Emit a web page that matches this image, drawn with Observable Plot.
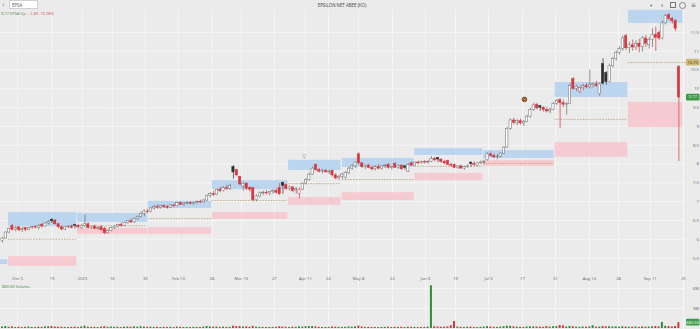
<!DOCTYPE html>
<html><head><meta charset="utf-8">
<script src="https://cdn.jsdelivr.net/npm/d3@7"></script>
<script src="https://cdn.jsdelivr.net/npm/@observablehq/plot@0.6"></script>
<style>
html,body{margin:0;padding:0;background:#ebebeb;}
#wrap{position:relative;width:700px;height:329px;overflow:hidden;background:#ebebeb;font-family:"Open Sans","DejaVu Sans",sans-serif;}
#price{position:absolute;left:0;top:0;}
#vol{position:absolute;left:0;top:283px;}
.t{position:absolute;font-size:4.4px;line-height:1;white-space:nowrap;}
</style></head>
<body><div id="wrap">
<div id="price"></div><div id="vol"></div>
<div class="t" style="left:2.5px;top:1.5px;font-size:6.5px;color:#666">‹</div>
<div style="position:absolute;left:9px;top:0;width:29px;height:9px;background:#fff;border:0.5px solid #d0d0d0;box-sizing:border-box"></div>
<div class="t" style="left:12px;top:2.6px;color:#555">EPSA</div>
<div class="t" style="left:0;width:684px;text-align:center;top:3px;color:#444">EPSILON NET ABEE (KO)</div>
<div class="t" style="left:650px;top:2.5px;color:#666">▾</div>
<div class="t" style="left:661px;top:2.5px;color:#666">ıı</div>
<div style="position:absolute;left:670px;top:2px;width:4px;height:4px;border:0.6px solid #777"></div>
<div style="position:absolute;left:679px;top:1.5px;width:5px;height:5px;border:0.6px solid #888;border-radius:50%"></div>
<div class="t" style="left:691px;top:2px;font-size:6px;color:#666">≡</div>
<div class="t" style="left:1px;top:11.5px;font-size:4px"><span style="color:#4a8a3a">9.77 EPSA Up</span> <span style="color:#cf3f43">· -1.83 -15.78%</span></div>
<div class="t" style="left:2px;top:284.5px;font-size:4px;color:#3a8a3a">883.6K Volume</div>
</div>
<script>
const openP=[5.95,6.02,6.18,6.35,6.26,6.32,6.24,6.30,6.25,6.30,
6.33,6.31,6.38,6.34,6.42,6.52,6.50,6.40,6.32,6.26,
6.32,6.34,6.38,6.36,6.30,6.36,6.40,6.30,6.34,6.28,
6.32,6.28,6.16,6.22,6.30,6.34,6.38,6.36,6.44,6.48,
6.45,6.54,6.60,6.68,6.74,6.72,6.82,6.86,6.84,6.88,
6.86,6.84,6.90,6.88,6.96,6.92,6.95,6.97,6.94,6.97,
6.99,6.98,7.03,7.16,7.20,7.18,7.32,7.28,7.36,7.34,
7.92,7.84,7.66,7.40,7.48,7.36,7.36,7.04,7.14,7.22,
7.24,7.22,7.26,7.28,7.36,7.50,7.44,7.34,7.38,7.30,
7.20,7.32,7.48,7.58,7.72,7.98,7.84,7.80,7.82,7.78,
7.82,7.70,7.62,7.66,7.64,7.76,7.88,7.94,8.26,8.02,
7.92,7.96,7.90,7.86,7.92,7.88,7.94,7.98,7.90,8.00,
7.90,7.96,7.94,7.80,8.02,7.96,8.04,8.02,8.05,8.04,
8.06,8.14,8.16,8.12,8.06,8.08,7.98,7.98,7.90,7.94,
7.88,7.92,8.04,8.00,7.96,8.02,8.04,8.10,8.26,8.22,
8.18,8.20,8.28,8.44,8.94,9.16,9.10,9.14,9.08,9.12,
9.26,9.44,9.58,9.54,9.50,9.44,9.40,9.44,9.60,9.70,
9.62,9.58,9.60,10.26,10.00,9.92,10.02,10.08,10.04,10.10,
10.12,9.86,10.66,10.42,10.18,10.60,10.80,10.96,11.06,11.40,
11.08,11.16,11.10,11.20,11.12,11.34,11.16,11.30,11.44,11.48,
11.34,11.74,11.96,11.86,11.80,10.58];
const highP=[6.05,6.20,6.30,6.40,6.34,6.34,6.32,6.32,6.32,6.35,
6.36,6.40,6.42,6.45,6.50,6.55,6.52,6.42,6.36,6.34,
6.36,6.38,6.40,6.40,6.40,6.64,6.44,6.36,6.38,6.34,
6.36,6.32,6.26,6.32,6.36,6.40,6.44,6.46,6.50,6.54,
6.56,6.62,6.72,6.78,6.80,6.84,6.90,6.92,6.90,6.92,
6.90,6.92,6.94,6.98,7.00,6.98,7.00,7.00,6.99,7.02,
7.04,7.06,7.18,7.24,7.28,7.34,7.38,7.40,7.44,7.46,
7.96,7.86,7.68,7.52,7.50,7.40,7.38,7.18,7.26,7.28,
7.30,7.28,7.32,7.34,7.48,7.52,7.48,7.42,7.40,7.38,
7.36,7.50,7.62,7.76,7.92,8.00,7.88,7.86,7.86,7.84,
7.84,7.74,7.70,7.76,7.80,7.92,7.98,8.06,8.30,8.04,
7.98,8.00,7.94,7.96,7.98,7.96,8.00,8.02,7.94,8.04,
7.98,7.98,7.96,8.02,8.06,8.06,8.08,8.08,8.10,8.10,
8.20,8.18,8.18,8.14,8.10,8.10,8.02,8.00,7.96,7.98,
7.94,7.98,8.06,8.06,8.04,8.08,8.10,8.30,8.32,8.28,
8.26,8.30,8.46,8.98,9.20,9.22,9.18,9.20,9.16,9.30,
9.48,9.62,9.62,9.56,9.52,9.50,9.48,9.64,9.72,9.74,
9.70,9.64,10.14,10.30,10.10,10.06,10.12,10.14,10.50,10.16,
10.20,10.16,10.80,10.46,10.66,10.84,11.00,11.12,11.40,11.46,
11.24,11.30,11.28,11.32,11.40,11.42,11.36,11.60,11.64,11.54,
11.80,11.98,12.00,11.90,11.84,10.62];
const lowP=[5.90,6.00,6.15,6.22,6.20,6.20,6.18,6.20,6.22,6.26,
6.28,6.25,6.30,6.32,6.38,6.42,6.38,6.28,6.22,6.24,
6.28,6.28,6.28,6.28,6.26,6.32,6.28,6.26,6.26,6.24,
6.22,6.12,6.14,6.20,6.26,6.30,6.32,6.34,6.40,6.42,
6.42,6.50,6.56,6.60,6.68,6.70,6.78,6.80,6.80,6.82,
6.80,6.82,6.84,6.86,6.90,6.88,6.92,6.92,6.90,6.94,
6.95,6.96,7.00,7.10,7.14,7.16,7.24,7.26,7.30,7.30,
7.60,7.66,7.42,7.28,7.30,7.26,7.00,7.00,7.10,7.16,
7.18,7.16,7.20,7.20,7.16,7.20,7.30,7.28,7.24,7.20,
7.08,7.30,7.44,7.54,7.70,7.80,7.76,7.74,7.76,7.72,
7.66,7.58,7.56,7.60,7.60,7.72,7.84,7.88,7.98,7.88,
7.86,7.88,7.82,7.82,7.84,7.84,7.88,7.86,7.84,7.88,
7.86,7.84,7.84,7.78,7.94,7.94,7.98,8.00,8.00,8.00,
8.04,8.06,8.04,8.02,7.98,7.96,7.92,7.88,7.86,7.86,
7.84,7.88,7.92,7.94,7.94,7.98,7.98,8.08,8.18,8.14,
8.12,8.16,8.26,8.42,8.90,9.04,9.02,9.04,9.00,9.10,
9.22,9.40,9.44,9.40,9.38,9.36,9.34,9.42,9.56,8.95,
9.50,9.30,9.58,9.96,9.92,9.88,9.96,10.00,10.00,10.02,
10.04,9.80,10.10,10.10,10.16,10.56,10.74,10.90,11.00,11.02,
10.94,11.00,11.02,10.96,10.98,11.10,11.06,11.10,11.00,11.28,
11.30,11.70,11.82,11.72,11.52,8.07];
const closeP=[6.02,6.18,6.28,6.25,6.30,6.24,6.28,6.25,6.30,6.33,
6.31,6.36,6.34,6.42,6.46,6.48,6.40,6.32,6.26,6.32,
6.34,6.30,6.36,6.32,6.36,6.40,6.30,6.34,6.28,6.30,
6.24,6.16,6.22,6.30,6.34,6.38,6.36,6.44,6.48,6.45,
6.54,6.60,6.68,6.74,6.72,6.82,6.86,6.84,6.88,6.86,
6.84,6.90,6.88,6.96,6.92,6.95,6.97,6.94,6.97,6.99,
6.98,7.03,7.16,7.20,7.18,7.32,7.28,7.36,7.34,7.42,
7.78,7.70,7.46,7.48,7.34,7.32,7.04,7.14,7.22,7.24,
7.22,7.26,7.28,7.24,7.20,7.42,7.34,7.38,7.28,7.34,
7.32,7.48,7.58,7.72,7.88,7.84,7.80,7.82,7.78,7.80,
7.70,7.62,7.66,7.72,7.76,7.88,7.94,8.04,8.02,7.92,
7.96,7.90,7.86,7.92,7.88,7.94,7.96,7.90,7.92,7.90,
7.94,7.86,7.90,7.98,7.96,8.04,8.02,8.05,8.04,8.06,
8.14,8.10,8.12,8.06,8.02,7.98,7.96,7.90,7.94,7.88,
7.92,7.94,8.00,7.98,8.02,8.04,8.06,8.26,8.22,8.18,
8.20,8.28,8.44,8.94,9.16,9.10,9.14,9.08,9.12,9.26,
9.44,9.56,9.48,9.50,9.44,9.40,9.44,9.60,9.68,9.62,
9.58,9.60,10.08,10.00,10.06,10.02,10.08,10.04,10.10,10.12,
10.08,10.12,10.14,10.18,10.60,10.80,10.96,11.06,11.34,11.08,
11.16,11.10,11.20,11.12,11.34,11.20,11.30,11.44,11.36,11.34,
11.74,11.94,11.86,11.80,11.60,9.77];
const volumeM=[0.22,0.30,0.18,0.25,0.15,0.20,0.14,0.18,0.22,0.16,
0.14,0.20,0.18,0.24,0.26,0.30,0.22,0.18,0.20,0.16,
0.15,0.18,0.20,0.16,0.22,0.35,0.20,0.16,0.18,0.15,
0.20,0.28,0.18,0.22,0.16,0.18,0.14,0.20,0.22,0.18,
0.24,0.20,0.26,0.22,0.18,0.20,0.16,0.18,0.15,0.17,
0.16,0.18,0.14,0.20,0.18,0.15,0.16,0.14,0.17,0.18,
0.16,0.20,0.30,0.24,0.20,0.22,0.18,0.20,0.16,0.18,
0.34,0.28,0.30,0.22,0.24,0.18,0.32,0.20,0.18,0.16,
0.15,0.17,0.16,0.18,0.26,0.22,0.18,0.16,0.20,0.18,
0.24,0.20,0.26,0.28,0.30,0.24,0.18,0.16,0.15,0.17,
0.22,0.20,0.18,0.16,0.18,0.22,0.20,0.24,0.36,0.22,
0.16,0.18,0.15,0.16,0.14,0.16,0.18,0.20,0.15,0.18,
0.16,0.18,0.15,0.20,0.18,0.16,0.14,0.15,0.18,0.20,
6.40,0.26,0.22,0.18,0.20,0.24,0.40,1.05,0.22,0.18,
0.16,0.18,0.20,0.16,0.15,0.18,0.20,0.28,0.22,0.18,
0.16,0.20,0.26,0.34,0.32,0.24,0.20,0.18,0.16,0.22,
0.26,0.24,0.22,0.20,0.18,0.30,0.20,0.26,0.28,0.45,
0.40,0.22,0.30,0.26,0.20,0.18,0.22,0.20,0.24,0.42,
0.20,0.22,0.28,0.24,0.26,0.22,0.24,0.20,0.26,0.22,
0.18,0.20,0.22,0.18,0.24,0.20,0.22,0.26,0.30,0.24,
0.90,0.32,0.28,0.22,0.30,0.88];

const tickLabels=["Dec 5","19","2023","16","30","Feb 13","28","Mar 13","27","Apr 11","24","May 8","22","Jun 6","19","Jul 3","17","31","Aug 14","28","Sep 11","25"];
const tickIdx=[4.6,15,24.2,33.3,43.3,53.3,63.5,72.4,82.4,91.8,98.8,107.9,118.2,128.2,137.3,147.3,157.6,167.6,177.9,186.7,196.3,206.4];
const priceTicks=[5.5,6,6.5,7,7.5,8,8.5,9,9.5,10,10.5,11,11.5];
const volTicks=[3,6];
const volTickLabels=["3M","6M"];

const periodStart=[-0.6,1.8,22.7,44.2,63.6,86.7,103,125,145.8,167.5,189.7];
const periodEnd=[1.6,22.5,44.0,63.4,86.5,102.6,124.8,145.6,167.2,189.5,206.2];
const pivotEnd=[1.6,22.5,44.0,63.4,86.5,102.6,124.8,145.6,167.2,189.5,208.6];
const blueLo=[5.33,6.34,6.45,6.82,7.32,7.83,7.91,8.23,8.15,9.77,11.74];
const blueHi=[5.46,6.71,6.69,7.01,7.56,8.10,8.15,8.41,8.36,10.17,12.09];
const pinkLo=[null,5.28,6.13,6.13,6.53,6.90,7.03,7.56,7.94,8.18,8.97];
const pinkHi=[null,5.54,6.29,6.31,6.71,7.11,7.24,7.75,8.10,8.57,9.64];
const pivotP=[null,6.00,6.36,6.55,7.03,7.48,7.59,7.94,8.02,9.19,10.70];

const signalIdx=[91.5], signalPrice=[8.2];
const eventIdx=[158.2], eventPrice=[9.72];
const lastClose=9.77, alertLevel=10.70, lastVolume=0.8836;

const candles=closeP.map((c,i)=>({i,o:openP[i],h:highP[i],l:lowP[i],c,v:volumeM[i],prev:i?closeP[i-1]:openP[i]}));
const periods=periodStart.map((s,k)=>({x1:s,x2:periodEnd[k],xe:pivotEnd[k],b1:blueLo[k],b2:blueHi[k],p1:pinkLo[k],p2:pinkHi[k],pv:pivotP[k]}));

const RED="#d6363d",GRAY="#6a6a6a",BLACK="#2e2e2e";
const lineColor=d=>d.c>=d.prev?GRAY:RED;
const bodyFill=d=>d.c>=d.o?"#ffffff":(d.c>=d.prev?BLACK:RED);
const bodyStroke=d=>d.c>=d.o?lineColor(d):bodyFill(d);
const FONT='"Open Sans","DejaVu Sans",sans-serif';
const GRID="#f7f7f7";

const xScale={type:"linear",domain:[-0.6,207],range:[0,685]};

const price=Plot.plot({
  width:700,height:283,marginTop:9.4,marginBottom:14.1,marginLeft:0,marginRight:15,
  style:{background:"transparent",fontFamily:FONT,overflow:"visible"},
  x:{...xScale,axis:null},
  y:{domain:[5.2,12.1],axis:null},
  color:{type:"identity"},
  marks:[
    Plot.ruleY(priceTicks,{stroke:GRID,strokeWidth:0.8}),
    Plot.ruleX(tickIdx,{stroke:GRID,strokeWidth:0.8,insetBottom:-14.1}),
    Plot.rect(periods.filter(d=>d.p1!=null),{x1:"x1",x2:"x2",y1:"p1",y2:"p2",fill:"#f6c8ce",fillOpacity:0.9}),
    Plot.rect(periods,{x1:"x1",x2:"x2",y1:"b1",y2:"b2",fill:"#b7d3ef",fillOpacity:0.9}),
    Plot.ruleY(periods.filter(d=>d.pv!=null),{y:"pv",x1:"x1",x2:"xe",stroke:"#b19a5c",strokeWidth:0.7,strokeDasharray:"1.6,1.2"}),
    Plot.ruleX(candles,{x:"i",y1:"l",y2:"h",stroke:bodyStroke,strokeWidth:0.7}),
    Plot.rect(candles,{x1:d=>d.i-0.34,x2:d=>d.i+0.34,y1:"o",y2:"c",fill:bodyFill,stroke:bodyStroke,strokeWidth:0.5}),
    Plot.text(signalIdx,{x:d=>d,y:(d,i)=>signalPrice[i],text:()=>"▽",fontSize:5.5,fill:"#777"}),
    Plot.dot(eventIdx,{x:d=>d,y:(d,i)=>eventPrice[i],r:2.3,fill:"#b8692f",stroke:"#4f3318",strokeWidth:0.7}),
    Plot.text(tickLabels,{x:(d,i)=>tickIdx[i],text:d=>d,frameAnchor:"bottom",dy:10.3,fill:"#666",fontSize:4.2}),
    Plot.text(priceTicks,{y:d=>d,text:d=>String(d),frameAnchor:"right",textAnchor:"end",dx:13.5,fill:"#666",fontSize:4.3})
  ]
});
document.getElementById("price").appendChild(price);

const vol=Plot.plot({
  width:700,height:46,marginTop:0,marginBottom:1,marginLeft:0,marginRight:15,
  style:{background:"transparent",fontFamily:FONT,overflow:"visible"},
  x:{...xScale,axis:null},
  y:{domain:[0,6.75],axis:null},
  color:{type:"identity"},
  marks:[
    Plot.ruleY(volTicks,{stroke:GRID,strokeWidth:0.8}),
    Plot.ruleX(tickIdx,{stroke:GRID,strokeWidth:0.8,insetBottom:-1}),
    Plot.rectY(candles,{x1:d=>d.i-0.3,x2:d=>d.i+0.3,y:"v",fill:d=>d.c>=d.o?"#2e8a36":"#d3363c"}),
    Plot.text(volTickLabels,{y:(d,i)=>volTicks[i],text:d=>d,frameAnchor:"right",textAnchor:"end",dx:13.5,fill:"#666",fontSize:4.3})
  ]
});
document.getElementById("vol").appendChild(vol);

function badge(svg,yPix,label,fill,color){
  const g=d3.select(svg).append("g");
  g.append("rect").attr("x",686).attr("y",yPix-3.4).attr("width",13.5).attr("height",6.8).attr("rx",1.2).attr("fill",fill);
  g.append("text").attr("x",692.7).attr("y",yPix).attr("dy","0.35em").attr("text-anchor","middle")
    .attr("font-size",4.2).attr("font-family",FONT).attr("fill",color).text(label);
}
badge(price,price.scale("y").apply(alertLevel),alertLevel.toFixed(2),"#cdb878","#4a3d12");
badge(price,price.scale("y").apply(lastClose),lastClose.toFixed(2),"#3d9a4a","#e9f7e6");
badge(vol,vol.scale("y").apply(lastVolume),(lastVolume*1000).toFixed(1)+"K","#3d9a4a","#e9f7e6");
</script>
</body></html>
